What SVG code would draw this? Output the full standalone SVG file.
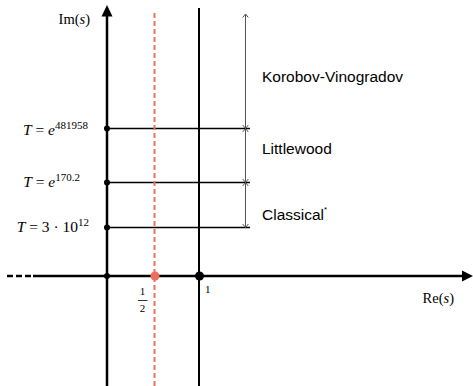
<svg xmlns="http://www.w3.org/2000/svg" width="473" height="386" viewBox="0 0 473 386">
<style>
.serif{font-family:"Liberation Serif","Times New Roman",serif;fill:#000}
.sans{font-family:"Liberation Sans",Arial,sans-serif;fill:#000;font-size:15.5px}
.hl{stroke:#000;stroke-width:1.3}
.dim{stroke:#555;stroke-width:1;fill:none;marker-start:url(#oa);marker-end:url(#oa)}
</style>
<defs>
<marker id="oa" viewBox="0 0 8 8" refX="7" refY="4" markerWidth="8" markerHeight="8" markerUnits="userSpaceOnUse" orient="auto-start-reverse">
<path d="M3.5,1.2 L7,4 L3.5,6.8" fill="none" stroke="#555" stroke-width="1"/>
</marker>
</defs>
<rect width="473" height="386" fill="#fff"/>
<g id="connectors">
<line class="hl" x1="107" y1="128.5" x2="250" y2="128.5"/>
<line class="hl" x1="107" y1="182.5" x2="250" y2="182.5"/>
<line class="hl" x1="107" y1="227.5" x2="250" y2="227.5"/>
<line class="dim" x1="245.5" y1="14" x2="245.5" y2="128.5"/>
<line class="dim" x1="245.5" y1="128.5" x2="245.5" y2="182.5"/>
<line class="dim" x1="245.5" y1="182.5" x2="245.5" y2="227.5"/>
</g>
<g id="axes">
<line x1="107" y1="15" x2="107" y2="386" stroke="#000" stroke-width="2.5"/>
<polygon points="107,5 101.5,16.5 112.5,16.5" fill="#000"/>
<line x1="154.5" y1="13" x2="154.5" y2="386" stroke="#ef6f5e" stroke-width="2" stroke-dasharray="5,3"/>
<line x1="199" y1="8" x2="199" y2="386" stroke="#000" stroke-width="2"/>
<line x1="7" y1="276" x2="33" y2="276" stroke="#000" stroke-width="2.5" stroke-dasharray="6,3"/>
<line x1="33" y1="276" x2="464" y2="276" stroke="#000" stroke-width="2.5"/>
<polygon points="473,276 462,270.5 462,281.5" fill="#000"/>
</g>
<g id="points">
<circle cx="107" cy="128.5" r="3"/>
<circle cx="107" cy="182.5" r="3"/>
<circle cx="107" cy="227.5" r="3"/>
<circle cx="107" cy="276" r="3"/>
<circle cx="155" cy="276" r="4.5" fill="#ef6f5e"/>
<circle cx="199.5" cy="276" r="4.5"/>
</g>
<g id="labels">
<text class="serif" x="90" y="24" font-size="14.5" text-anchor="end">Im(<tspan font-style="italic">s</tspan>)</text>
<text class="serif" x="454" y="303" font-size="14.5" text-anchor="end">Re(<tspan font-style="italic">s</tspan>)</text>
<text class="serif" x="88" y="135" font-size="15.5" text-anchor="end"><tspan font-style="italic">T</tspan> = <tspan font-style="italic">e</tspan><tspan font-size="11" dy="-6">481958</tspan></text>
<text class="serif" x="80" y="187" font-size="15.5" text-anchor="end"><tspan font-style="italic">T</tspan> = <tspan font-style="italic">e</tspan><tspan font-size="11" dy="-6">170.2</tspan></text>
<text class="serif" x="89" y="232" font-size="15.5" text-anchor="end"><tspan font-style="italic">T</tspan> = 3 · 10<tspan font-size="11" dy="-6">12</tspan></text>
<text class="serif" x="205" y="293" font-size="11">1</text>
<text class="serif" x="142.5" y="295" font-size="11" text-anchor="middle">1</text>
<line x1="138" y1="300.5" x2="147.5" y2="300.5" stroke="#000" stroke-width="0.8"/>
<text class="serif" x="142.5" y="312" font-size="11" text-anchor="middle">2</text>
</g>
<g id="regions">
<text class="sans" x="262" y="82">Korobov-Vinogradov</text>
<text class="sans" x="262" y="154">Littlewood</text>
<text class="sans" x="262" y="220">Classical<tspan font-size="8" dy="-8">*</tspan></text>
</g>
</svg>
